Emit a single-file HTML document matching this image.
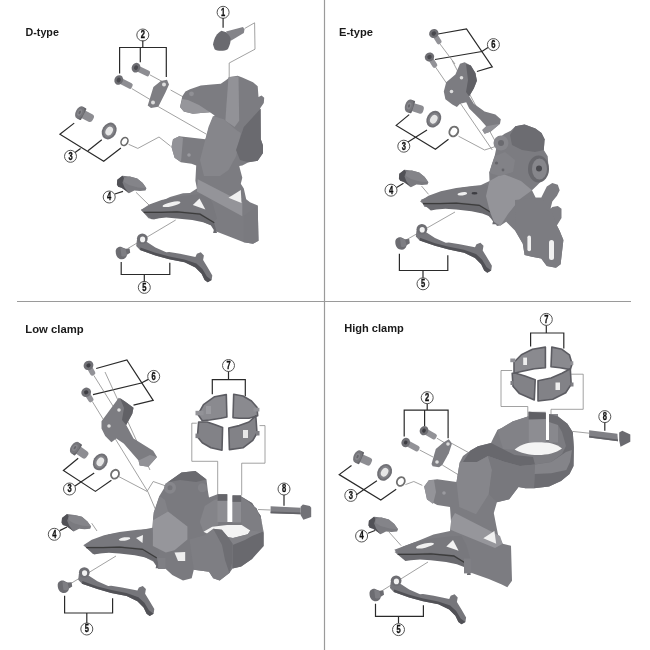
<!DOCTYPE html>
<html><head><meta charset="utf-8">
<style>
html,body{margin:0;padding:0;background:#fff;width:650px;height:650px;overflow:hidden}
svg{display:block;filter:blur(0.35px)}
.t{font-family:"Liberation Sans",sans-serif;font-weight:bold;font-size:11.4px;fill:#1a1a1a}
.n{font-family:"Liberation Sans",sans-serif;font-weight:bold;font-size:10.5px;fill:#111;text-anchor:middle;stroke:#111;stroke-width:0.35}
.c{fill:#fff;stroke:#555;stroke-width:1}
.b{fill:none;stroke:#2a2a2a;stroke-width:1.2}
.g{fill:none;stroke:#8a8a8a;stroke-width:0.8}
</style></head><body>
<svg width="650" height="650" viewBox="0 0 650 650">
<rect width="650" height="650" fill="#fff"/>
<defs>
<g id="p4">
<path d="M399.3,173.8 L404.4,169.7 L411.8,170.6 L419.2,172.5 L424.7,177.1 L428.4,182.2 L427.5,184.5 L421.9,184.9 L416.4,184.5 L410.9,187.2 L408.1,184.9 L403.5,181.7 L400.2,180.8 L398.9,178.5 Z" fill="#7a7a7f"/>
<path d="M399.3,173.8 L404.4,169.7 L406,172 L404.5,176.5 L406.5,181.5 L410.9,187.2 L408.1,184.9 L403.5,181.7 L400.2,180.8 L398.9,178.5 Z" fill="#515156"/>
<path d="M406,172 L411.8,170.6 L419.2,172.5 L424.7,177.1 L428.4,182.2 L420,181.5 L411,179 L406,176 Z" fill="#848489"/>
</g>
<g id="p5">
<path d="M395.3,242 C395.3,238.5 398,237 401,237.3 L405,239.2 L409.2,239 L409.8,243.2 L406.6,245.2 C406,248.6 403.5,250.2 400.4,249.6 C397.2,249 395.3,246 395.3,242 Z" fill="#6c6c71"/>
<path d="M400,238 L405,239.2 L406.6,245.2 C405.5,247 403,247.5 401,246.5 Z" fill="#7e7e83"/>
<path d="M425.8,231.9 L435,238 L445.8,242.7 L448.8,242.4 L459.6,244.2 L475,247.3 L476.5,244.2 L480.4,242.7 L483.5,245.8 L482.7,250.4 L487.3,258 L491.9,265.8 L491.2,270.4 L487.3,272.7 L484.2,270.4 L481.2,264.2 L475,258 L464.2,252.7 L448.8,249.6 L435,245.8 L419.6,240.4 L415.8,236.5 L416.5,230.4 Z" fill="#76767b"/>
<path d="M419.6,240.4 L435,245.8 L448.8,249.6 L464.2,252.7 L475,258 L481.2,264.2 L484.2,270.4 L487.3,272.7 L491.2,270.4 L486.5,267 L482,259.5 L476,254 L464,249.8 L449,246.8 L435,243.2 L420,237.8 Z" fill="#515156"/>
<ellipse cx="421.9" cy="229.2" rx="5.4" ry="5.2" fill="#6e6e73"/>
<ellipse cx="422.2" cy="229.8" rx="2.6" ry="2.8" fill="#f2f2f2"/>
</g>
<g id="cage">
<path d="M420,201.2 L428.5,195.8 L440.8,191.2 L456.2,188 L474.6,185.8 L486.9,185 L492,195 L496.2,210 L493,212.7 L479.2,204.2 L456.2,202 L440,202.5 L422.3,202.5 Z" fill="#78787d"/>
<path d="M420,201.2 L422.3,202.5 L440,202.5 L456.2,202 L479.2,204.2 L493,212.7 L496.2,224.2 L492.3,224.2 L493,221.2 L490,216.5 L482.3,213.5 L471.5,211.2 L456.2,209.6 L445.4,208.8 L436.2,209.6 L430.8,210.4 Z" fill="#6a6a6f"/>
<path d="M423,203.6 L440,203.6 L456.2,203.1 L479.2,205.3 L493.5,214" fill="none" stroke="#3c3c3c" stroke-width="1.3"/>
</g>
</defs>

<!-- dividers -->
<line x1="324.5" y1="0" x2="324.5" y2="650" stroke="#9a9a9a" stroke-width="1.2"/>
<line x1="17" y1="301.5" x2="631" y2="301.5" stroke="#9a9a9a" stroke-width="1.2"/>
<!-- titles -->
<text class="t" x="25.5" y="35.6" textLength="33.4" lengthAdjust="spacingAndGlyphs">D-type</text>
<text class="t" x="339" y="35.6" textLength="34" lengthAdjust="spacingAndGlyphs">E-type</text>
<text class="t" x="25.3" y="332.6" textLength="58.3" lengthAdjust="spacingAndGlyphs">Low clamp</text>
<text class="t" x="344.2" y="332.3" textLength="59.6" lengthAdjust="spacingAndGlyphs">High clamp</text>

<!-- ===== Q1 D-type ===== -->
<g id="q1">
<!-- label circles -->
<g class="lbl">
<g transform="translate(223.1,12.3)"><circle class="c" r="6"/><text class="n" transform="scale(0.72,1)" y="3.3">1</text></g>
<g transform="translate(142.8,35)"><circle class="c" r="6"/><text class="n" transform="scale(0.72,1)" y="3.3">2</text></g>
<g transform="translate(70.5,156.3)"><circle class="c" r="6"/><text class="n" transform="scale(0.72,1)" y="3.3">3</text></g>
<g transform="translate(109.2,197)"><circle class="c" r="6"/><text class="n" transform="scale(0.72,1)" y="3.3">4</text></g>
<g transform="translate(144.3,287.4)"><circle class="c" r="6"/><text class="n" transform="scale(0.72,1)" y="3.3">5</text></g>
</g>
<!-- brackets -->
<path class="b" d="M223.1,18 V27.7"/>
<path class="b" d="M142.8,40.6 V47.5 M119.6,73.5 V47.5 H166.3 V77 M140.3,47.5 V62.3"/>
<path class="b" d="M74.2,123.1 L59.9,134.2 L103.7,161.3 L120.9,148 M88,150.8 L101.8,139.7 M80.6,148.4 L75,152.6"/>
<path class="b" d="M114.8,194 L123,191.4"/>
<path class="b" d="M121.2,262.1 V274.5 H169.8 V262.8 M144.3,274.5 V281.8"/>
<!-- grey leader lines -->
<path class="g" d="M244.6,28.5 L254.6,22.8 L255,49.2 L229.2,63 L229.2,100"/>
<path class="g" d="M149.8,74.8 L165,83 M170.6,90 L213.5,113.5"/>
<path class="g" d="M131.8,88.6 L152.6,101 M158.2,106.6 L206.6,134.3"/>
<path class="g" d="M128.6,144.3 L137.8,148.4 L159,137 L170.6,146.2"/>
<path class="g" d="M136,192.3 L149,205"/>
<path class="g" d="M127.7,248.6 L175.7,220"/>
<!-- part 1 -->
<polygon points="226,31.5 243,27 244.5,29.5 243.8,33 230.8,40.8" fill="#848489"/>
<path d="M213,44.6 C214,38 217,33 221.5,30.8 L226.2,32.3 C229,35 231,38 230.8,40 C230,45 228.5,48 227.7,49.2 C224,51.5 217,51 214.6,49.2 Z" fill="#6a6a6f"/>
<!-- part 2 bolts -->
<g transform="translate(136,67.7) rotate(26)"><rect x="0" y="-3" width="15" height="6" rx="2" fill="#8d8d92"/><ellipse rx="4.2" ry="5" fill="#6e6e73"/><ellipse rx="2" ry="2.4" fill="#49494e"/></g>
<g transform="translate(118.7,80) rotate(27)"><rect x="0" y="-3" width="15" height="6" rx="2" fill="#8d8d92"/><ellipse rx="4.2" ry="5" fill="#6e6e73"/><ellipse rx="2" ry="2.4" fill="#49494e"/></g>
<!-- part 2 plate -->
<polygon points="148.5,103 153.4,87 160.8,81 167,79.7 169,84.6 165.7,92 158.3,106.8 151,108 147.7,105.5" fill="#7e7e83"/>
<circle cx="164" cy="84.5" r="2" fill="#ddd"/><circle cx="153" cy="102.5" r="2" fill="#ddd"/>
<!-- part 3 -->
<g transform="translate(80.6,112.9) rotate(27)"><rect x="0" y="-4.2" width="14" height="8.4" rx="3" fill="#8d8d92"/><rect x="-1" y="-6.6" width="4.5" height="13.2" rx="1" fill="#65656a"/><ellipse cx="-1" rx="4" ry="6.6" fill="#76767b"/><ellipse cx="-1" rx="2.2" ry="3.6" fill="#86868b"/><ellipse cx="-1" rx="1" ry="1.8" fill="#65656a"/></g>
<g transform="translate(109.2,131) rotate(30)"><ellipse rx="7" ry="8.8" fill="#707075"/><ellipse rx="5.2" ry="6.8" fill="#828287"/><ellipse rx="3.4" ry="4.6" fill="#e6e6e6"/></g>
<g transform="translate(124.5,141.5) rotate(30)"><ellipse rx="3.2" ry="4.2" fill="none" stroke="#6a6a6a" stroke-width="1.6"/></g>
<!-- part 4 -->
<use href="#p4" transform="translate(-282,6)"/>
<!-- part 5 -->
<use href="#p5" transform="translate(-279.6,9.6)"/>
<!-- main body -->
<path d="M180,106.9 L182.3,96.2 L185.4,91.5 L190,89.2 L200.8,85.4 L211.5,84.6 L220.8,83.8 L226.2,80 L230,76.9 L237.7,75.8 L242.3,77.4 L253,82.3 L257.7,86.2 L258.5,96.9 L261.5,95.4 L264.2,97.7 L263.8,103 L260,108.5 L260.8,139.2 L263,145.4 L263,153 L257.7,160.8 L248.5,162.3 L242.3,165.4 L239.2,166 L242.3,177.7 L240.8,183.8 L243.8,188.5 L246.2,199.2 L250,202.3 L257.7,205.4 L258.5,240.8 L253,243.8 L243.8,242.3 L228.5,236.2 L216.2,231.5 L211.5,225.4 L200.8,220.8 L183.8,215.4 L172,214 L154,219.5 L148.5,218.2 L141,209.8 L155.4,204.3 L170,197 L183,193.2 L190,193 L196.9,188.5 L195.4,180.8 L196.2,165.4 L191.5,163.8 L180.8,162.3 L174.6,157.7 L171.5,146.9 L173,139.2 L179.2,136.2 L205.4,139.2 L206.9,134.6 L209.2,127 L212.3,119.2 L214.6,115.4 L210,112.3 L200.8,113 L193,113.8 L183.8,111.5 Z" fill="#7c7c81"/>
<use href="#cage" transform="translate(-279.2,8.8)"/>
<path d="M180,106.9 L182.3,99 L188,100 L199,105 L210,112.3 L200.8,113 L193,113.8 L183.8,111.5 Z" fill="#96969b"/>
<circle cx="191.5" cy="93.8" r="2.4" fill="#909095"/>
<path d="M228.5,76.9 L238.5,76.5 L239.2,120.8 L234.6,127 L225.4,120.8 L226.2,108.5 Z" fill="#929297"/>
<path d="M208.5,127 L213,116 L223.8,119.2 L236.2,130 L240.8,133 L236.2,156 L228.5,170 L220,176 L204,176 L200,160 L205.4,139.2 Z" fill="#86868b"/>
<path d="M243.8,127 L260.8,108.5 L260.8,139.2 L263,145.4 L263,153 L257.7,160.8 L248.5,162.3 L240,160 L236,150 Z" fill="#6a6a6f"/>
<path d="M171.5,146.9 L173,139.2 L179.2,136.2 L183,138 L182,150 L181,162 L174.6,157.7 Z" fill="#929297"/>
<circle cx="189" cy="155" r="1.8" fill="#9a9a9f"/>
<path d="M197.7,179.2 L242.3,202.3 L242.3,216.2 L196.9,191.5 Z" fill="#949499"/>
<path d="M243.8,216 L257.7,205.4 L258.5,240.8 L253,243.8 L243.8,242.3 Z" fill="#7a7a7f"/>
<ellipse cx="171.5" cy="204.2" rx="9.2" ry="2.1" transform="rotate(-13 171.5 204.2)" fill="#f0f0f0"/>
<polygon points="199.5,198.5 192.8,205 205.4,209.6" fill="#f2f2f2"/>
<polygon points="228.5,197.7 240.8,190 241.5,203" fill="#f0f0f0"/>
</g>

<!-- ===== Q2 E-type ===== -->
<g id="q2">
<g transform="translate(493.4,44.6)"><circle class="c" r="6"/><text class="n" transform="scale(0.72,1)" y="3.3">6</text></g>
<g transform="translate(403.8,146.2)"><circle class="c" r="6"/><text class="n" transform="scale(0.72,1)" y="3.3">3</text></g>
<g transform="translate(391,190.2)"><circle class="c" r="6"/><text class="n" transform="scale(0.72,1)" y="3.3">4</text></g>
<g transform="translate(423,283.8)"><circle class="c" r="6"/><text class="n" transform="scale(0.72,1)" y="3.3">5</text></g>
<path class="b" d="M438,34 L466.5,28.8 L492.3,66.9 L476.9,71.5 M435,59.5 L481.9,51.5 L488,47.5"/>
<path class="b" d="M409.2,114.6 L396.2,125.4 L435.4,149.2 L448.5,139.2 M427,130 L408,142"/>
<path class="b" d="M396.6,187.4 L403.5,183.2"/>
<path class="b" d="M399.4,253.8 V270.5 H447.8 V255.2 M423,270.5 V277.8"/>
<path class="g" d="M439.4,43.2 L455,64 M435.4,66.9 L492.3,150"/>
<path class="g" d="M452.3,60.8 L470,95 L500,150"/>
<path class="g" d="M458.5,136.2 L484.6,150 L497,146"/>
<path class="g" d="M421.5,186 L428.5,194.3"/>
<path class="g" d="M406,240 L455,212"/>
<!-- part 6 bolts -->
<g transform="translate(433.8,33.5) rotate(58)"><rect x="0" y="-2.6" width="12" height="5.2" rx="2" fill="#929297"/><ellipse rx="4.4" ry="4.8" fill="#6e6e73"/><ellipse rx="2" ry="2.3" fill="#49494e"/></g>
<g transform="translate(429.5,57) rotate(58)"><rect x="0" y="-2.6" width="12" height="5.2" rx="2" fill="#929297"/><ellipse rx="4.4" ry="4.8" fill="#6e6e73"/><ellipse rx="2" ry="2.3" fill="#49494e"/></g>
<!-- part 6 plate -->
<path d="M443.8,91.5 L446.2,82.3 L455.4,74.6 L460,63.8 L464.6,62.3 L470.8,65.4 L475.4,73 L476.9,80.8 L473.8,88.5 L469.2,96.2 L473.8,103.8 L484.6,111.5 L495.4,114.6 L500.8,119.2 L500,123.8 L490.8,131.5 L484.6,133.8 L482.3,130 L486.2,126.2 L480,119.2 L469.2,108.5 L466.2,102.3 L460,103.8 L456.9,106.9 L452.3,104.6 L445.4,99.2 Z" fill="#7c7c81"/>
<path d="M466,64 L470.8,65.4 L475.4,73 L476.9,80.8 L473.8,88.5 L469.2,96.2 L466,92 L468,80 Z" fill="#606065"/>
<path d="M482.3,130 L486.2,126.2 L500,123.8 L490.8,131.5 L484.6,133.8 Z" fill="#929297"/>
<circle cx="451.5" cy="91.5" r="1.8" fill="#ddd"/><circle cx="461.5" cy="77.7" r="1.8" fill="#ddd"/>
<!-- part 3 -->
<g transform="translate(410,106.2) rotate(18)"><rect x="0" y="-4.2" width="14" height="8.4" rx="3" fill="#8d8d92"/><rect x="-1" y="-6.6" width="4.5" height="13.2" rx="1" fill="#65656a"/><ellipse cx="-1" rx="4" ry="6.6" fill="#76767b"/><ellipse cx="-1" rx="2.2" ry="3.6" fill="#86868b"/><ellipse cx="-1" rx="1" ry="1.8" fill="#65656a"/></g>
<g transform="translate(433.8,119.2) rotate(30)"><ellipse rx="7" ry="8.8" fill="#707075"/><ellipse rx="5.2" ry="6.8" fill="#828287"/><ellipse rx="3.4" ry="4.6" fill="#e6e6e6"/></g>
<g transform="translate(453.8,131.5) rotate(30)"><ellipse rx="4.2" ry="5" fill="none" stroke="#707070" stroke-width="2"/></g>
<!-- part 4 -->
<use href="#p4" transform="translate(0,0)"/>
<!-- part 5 -->
<use href="#p5" transform="translate(0,0)"/>
<!-- body -->
<path d="M421,199.8 L435.4,194.3 L463,187.4 L480,185.4 L489.5,181 L489.2,173 L491.5,165.4 L494.6,156.2 L496.9,145.4 L499.2,137.7 L504.6,133.8 L510.8,130.8 L515.4,126.2 L524.6,124.6 L535.4,128.5 L541.5,133 L544.6,139.2 L543.8,150 L547.7,156.2 L548.5,167 L544.6,177.7 L537,185.4 L532,190.3 L535.7,197.7 L541.2,197.7 L546.8,186.6 L552.3,183 L557.8,184.8 L559.7,190.3 L557,195.8 L552.3,201.4 L550.5,208.8 L552.3,207 L557.8,206 L561.5,208.8 L561.5,218 L556.9,225.4 L559.7,231 L563.4,240 L560.6,264.2 L556,267.8 L546.8,266 L541.2,258.6 L532,256.8 L524.6,255 L522.8,243.8 L515.4,231 L506.2,221.7 L500.6,225.4 L497,226 L494,222 L485,212 L471,207.5 L455,206 L435.4,208.2 L424.3,206.8 Z" fill="#7c7c81"/>
<use href="#cage" transform="translate(0,0)"/>
<path d="M489.5,181 L502.5,173.7 L521,181 L532,190.3 L520,199 L508,214 L500.6,225.4 L494,222 L490,212 L486,196 Z" fill="#949499"/>
<path d="M515.4,126.2 L524.6,124.6 L535.4,128.5 L541.5,133 L544.6,139.2 L543.8,150 L535,152 L522,150 L512,145 L510,135 Z" fill="#6c6c71"/>
<path d="M489.2,173 L491.5,165.4 L494.6,156.2 L505,152 L515,160 L513,172 L500,176 Z" fill="#828287"/>
<circle cx="496.5" cy="163" r="1.6" fill="#65656a"/><circle cx="503" cy="170" r="1.4" fill="#65656a"/>
<circle cx="501" cy="143" r="7.5" fill="#86868b"/><circle cx="501" cy="143" r="3" fill="#6a6a6f"/>
<ellipse cx="538.5" cy="169" rx="10.5" ry="13.5" fill="#68686d"/>
<ellipse cx="539.5" cy="169" rx="7.5" ry="10.5" fill="#86868b"/>
<circle cx="539" cy="168.5" r="3" fill="#4b4b50"/>
<path d="M515,200 L535.7,197.7 L541.2,197.7 L550.5,208.8 L556.9,225.4 L559.7,231 L563.4,240 L560.6,264.2 L556,267.8 L546.8,266 L541.2,258.6 L532,256.8 L524.6,255 L522.8,243.8 L515.4,231 Z" fill="#7c7c81"/>
<ellipse cx="462.3" cy="193.8" rx="4.8" ry="1.6" fill="#f0f0f0" transform="rotate(-8 462.3 193.8)"/>
<ellipse cx="474.5" cy="193.2" rx="3" ry="1.3" fill="#3e3e43"/>
<rect x="527.4" y="235.5" width="3.6" height="15.7" rx="1.8" fill="#f0f0f0"/>
<rect x="549" y="240" width="5" height="20" rx="2.5" fill="#f0f0f0"/>
</g>

<!-- ===== Q3 Low clamp ===== -->
<g id="q3">
<g transform="translate(153.7,376.4)"><circle class="c" r="6"/><text class="n" transform="scale(0.72,1)" y="3.3">6</text></g>
<g transform="translate(69.5,489)"><circle class="c" r="6"/><text class="n" transform="scale(0.72,1)" y="3.3">3</text></g>
<g transform="translate(54.3,534.3)"><circle class="c" r="6"/><text class="n" transform="scale(0.72,1)" y="3.3">4</text></g>
<g transform="translate(86.8,629)"><circle class="c" r="6"/><text class="n" transform="scale(0.72,1)" y="3.3">5</text></g>
<g transform="translate(228.5,365.5)"><circle class="c" r="6"/><text class="n" transform="scale(0.72,1)" y="3.3">7</text></g>
<g transform="translate(284,489)"><circle class="c" r="6"/><text class="n" transform="scale(0.72,1)" y="3.3">8</text></g>
<path class="b" d="M96.2,368.5 L126.9,360 L153.2,400.3 L133.5,405.2 M93,394.6 L141.4,383 L148.3,379.4"/>
<path class="b" d="M78.2,458.2 L63.4,470.5 L95.4,491.4 L111.4,480.3 M94.2,473 L75,486"/>
<path class="b" d="M59.7,530.6 L67,527"/>
<path class="b" d="M64.6,595.8 V613 H112.6 V598.3 M86.8,613 V623"/>
<path class="b" d="M228.5,371.5 V379.7 M212.3,394.2 V379.7 H245.3 V396.3"/>
<path class="b" d="M284,495 V505.7"/>
<path class="g" d="M93.8,375.4 L128,430 M92.3,401.5 L148,492 L160,520"/>
<path class="g" d="M105,372 L150,470"/>
<path class="g" d="M118.8,476.6 L147,491.4 L153.2,481.5 L166,486"/>
<path class="g" d="M91.7,523.2 L97,531"/>
<path class="g" d="M70,584 L116,556"/>
<path class="g" d="M196.8,423.2 H191.8 V461.3 H217.7 V494.5 M259.5,425.6 H265 V463.2 H241.7 V495.4"/>
<path class="g" d="M258,509.5 L270.6,510"/>
<!-- bolts 6 -->
<g transform="translate(88.5,365.4) rotate(62)"><rect x="0" y="-2.7" width="11" height="5.4" rx="2" fill="#929297"/><ellipse rx="4.6" ry="5" fill="#707075"/><ellipse rx="2" ry="2.2" fill="#3e3e43"/></g>
<g transform="translate(86.2,392.3) rotate(58)"><rect x="0" y="-2.7" width="11" height="5.4" rx="2" fill="#929297"/><ellipse rx="4.6" ry="5" fill="#707075"/><ellipse rx="2" ry="2.2" fill="#3e3e43"/></g>
<!-- part 6 -->
<path d="M101.5,421.2 L118.8,397.8 L125,401.5 L133.5,407.7 L132.3,413.8 L126.2,425 L133.5,438.5 L153.2,450.8 L157,457 L148.3,466.8 L139.7,465.5 L138.5,460.6 L123.7,443.4 L116.3,438.5 L111.4,442.2 L105.2,436 L101.5,428.6 Z" fill="#7c7c81"/>
<path d="M120,398 L125,401.5 L133.5,407.7 L132.3,413.8 L126.2,425 L122,420 L124,408 Z" fill="#616166"/>
<path d="M139.7,465.5 L138.5,460.6 L150,455 L157,457 L148.3,466.8 Z" fill="#929297"/>
<circle cx="109" cy="426" r="1.8" fill="#ddd"/><circle cx="119" cy="410" r="1.8" fill="#ddd"/>
<!-- part 3 -->
<g transform="translate(75.7,448.3) rotate(35)"><rect x="0" y="-4.2" width="14" height="8.4" rx="3" fill="#8d8d92"/><rect x="-1" y="-6.6" width="4.5" height="13.2" rx="1" fill="#65656a"/><ellipse cx="-1" rx="4" ry="6.6" fill="#76767b"/><ellipse cx="-1" rx="2.2" ry="3.6" fill="#86868b"/><ellipse cx="-1" rx="1" ry="1.8" fill="#65656a"/></g>
<g transform="translate(100.3,461.8) rotate(30)"><ellipse rx="7" ry="8.8" fill="#707075"/><ellipse rx="5.2" ry="6.8" fill="#828287"/><ellipse rx="3.4" ry="4.6" fill="#e6e6e6"/></g>
<g transform="translate(115,474.2) rotate(30)"><ellipse rx="3.8" ry="4.6" fill="none" stroke="#707070" stroke-width="1.8"/></g>
<!-- part 4 -->
<use href="#p4" transform="translate(-337.3,344.3)"/>
<!-- part 5 -->
<use href="#p5" transform="translate(-337.6,343.3)"/>
<!-- clamp 7 -->
<path d="M198,414.5 L203.5,404.7 L214.6,396.7 L226.3,394.6 L226.9,417 L220.8,418.2 L209.7,420 L202.3,420.7 Z" fill="#8a8a8f" stroke="#5c5c62" stroke-width="1.6" stroke-linejoin="round"/>
<path d="M233.7,394.2 L243,396 L251.5,401 L257,407.2 L257.7,415.8 L249,418.2 L239.2,418.2 L233,417.6 Z" fill="#8a8a8f" stroke="#5c5c62" stroke-width="1.6" stroke-linejoin="round"/>
<path d="M198.6,422 L207.2,422 L214.6,424.4 L222.6,427.5 L222,450.2 L210.9,447.8 L202.3,442.8 L197.4,436.7 Z" fill="#828287" stroke="#5c5c62" stroke-width="1.6" stroke-linejoin="round"/>
<path d="M228.8,428 L239.2,425.6 L249,422 L255.8,415.8 L257,433 L252.8,440.4 L243,447.8 L229.4,449.6 Z" fill="#828287" stroke="#5c5c62" stroke-width="1.6" stroke-linejoin="round"/>
<rect x="206" y="406" width="5" height="8" fill="#9a9a9f"/><rect x="243" y="430" width="5" height="8" fill="#e8e8e8"/>
<rect x="195.5" y="410.8" width="8" height="4.5" fill="#929297"/><rect x="253.4" y="407.8" width="6" height="3.7" fill="#929297"/>
<rect x="195.5" y="433.6" width="3.5" height="4.5" fill="#7f7f84"/><rect x="256" y="431" width="3.5" height="4.5" fill="#7f7f84"/>
<!-- bolt 8 -->
<path d="M270.6,506.3 L300.6,507.7 L300.6,514.2 L270.6,513.2 Z" fill="#808085"/><path d="M270.6,511.5 L300.6,512.5 L300.6,514.2 L270.6,513.2 Z" fill="#626267"/>
<path d="M300.6,506.8 L302.9,504.5 L309.9,505.9 L311.2,507.7 L311.2,517 L303.4,519.7 L300.6,515 Z" fill="#727277"/>
<!-- body -->
<path d="M84.3,545.4 L109,534.3 L138.5,530.6 L152.3,527.7 L153.8,512.6 L159.4,496 L167.7,482.2 L181.5,472.5 L195.4,471 L206.5,479.4 L207.8,490.5 L209,497.5 L217.5,494.3 L227.2,494.3 L227.2,522 L232.6,522 L232.6,495.4 L241.2,496.5 L252,503 L260.6,515.8 L262.8,533 L260.6,546 L252,559 L241.2,566.5 L232.6,568.6 L229.4,573 L219.7,580.5 L213.2,578.3 L209,571.8 L193.8,569.7 L191.7,578.3 L183,580.5 L172.3,575 L165.5,568.8 L158.2,568.8 L153.2,561.4 L138.5,554 L113.8,551.5 L93,554 Z" fill="#7a7a7f"/>
<use href="#cage" transform="translate(-336.7,344)"/>
<path d="M199.8,522 L204.8,506 L214.6,499.8 L218.3,499 L218.3,525 L212.2,526.8 L203.5,531.8 Z" fill="#848489"/><path d="M241.7,497.3 L247.8,501 L256.5,508.4 L261.4,519.5 L262.6,531.8 L250.3,530.5 L241.7,525 Z" fill="#7e7e83"/>
<path d="M241.2,496.5 L252,503 L260.6,515.8 L263.8,533 L263.8,546 L252,559 L241.2,566.5 L232.6,568.6 L232.6,543.8 L245,538 L252,534 L262.6,531.8 L261.4,519.5 L256.5,508.4 L247.8,501 L241.7,497.3 Z" fill="#69696e"/>
<path d="M203.5,531.8 L212.2,526.8 L227,525 L241.7,525 L250.3,530.5 L247.8,534.2 L233,538 L220.8,535.5 L208.5,534.2 Z" fill="#f3f3f3"/>
<rect x="217.5" y="494.3" width="9.7" height="27.8" fill="#8d8d92"/><rect x="232.6" y="495.4" width="8.6" height="27" fill="#8d8d92"/>
<rect x="217.5" y="494.3" width="9.7" height="6.5" fill="#65656a"/><rect x="232.6" y="495.4" width="8.6" height="6.5" fill="#65656a"/>
<path d="M233,538 L247.8,534.2 L250.3,530.5 L262.6,531.8 L252,536 L245,540 L232.6,545 L228.3,537.4 Z" fill="#828287"/>
<circle cx="170" cy="487.7" r="6" fill="#86868b"/><circle cx="170" cy="487.7" r="2.5" fill="#76767b"/>
<circle cx="202.3" cy="487.7" r="4.5" fill="#828287"/>
<path d="M167.7,482.2 L181.5,472.5 L195.4,471 L206.5,479.4 L196,482 L180,480 Z" fill="#6a6a6f"/>
<path d="M153.8,512.6 L159.4,496 L165,500 L168,511.5 L152.9,520.2 Z" fill="#828287"/>
<path d="M152.9,520.2 L168,511.5 L187.4,526.6 L187.4,539.5 L174.5,550.3 L165.8,552.5 L152.9,546 Z" fill="#96969b"/>
<path d="M189.5,539.5 L204.6,535.2 L213.2,528.8 L221.8,529.8 L228.3,537.4 L232.6,543.8 L232.6,561 L229.4,573 L219.7,580.5 L213.2,578.3 L209,571.8 L193.8,569.7 Z" fill="#7e7e83"/>
<path d="M213.2,528.8 L221.8,529.8 L228.3,537.4 L232.6,543.8 L232.6,561 L229.4,573 L225,560 L222,545 Z" fill="#6e6e73"/>
<rect x="158.2" y="558" width="7.3" height="11" fill="#7f7f84"/>
<ellipse cx="124.5" cy="539" rx="5.8" ry="1.7" transform="rotate(-8 124.5 539)" fill="#f0f0f0"/>
<polygon points="136,538 143,535 142.5,543" fill="#f0f0f0"/>
<path d="M174.5,552.5 L185.2,552 L185.2,561 L178,561 Z" fill="#eeeeee"/>
</g>

<!-- ===== Q4 High clamp ===== -->
<g id="q4">
<g transform="translate(427.2,397.7)"><circle class="c" r="6"/><text class="n" transform="scale(0.72,1)" y="3.3">2</text></g>
<g transform="translate(350.8,495.4)"><circle class="c" r="6"/><text class="n" transform="scale(0.72,1)" y="3.3">3</text></g>
<g transform="translate(361.6,536)"><circle class="c" r="6"/><text class="n" transform="scale(0.72,1)" y="3.3">4</text></g>
<g transform="translate(398.5,629.6)"><circle class="c" r="6"/><text class="n" transform="scale(0.72,1)" y="3.3">5</text></g>
<g transform="translate(546.3,319.4)"><circle class="c" r="6"/><text class="n" transform="scale(0.72,1)" y="3.3">7</text></g>
<g transform="translate(604.8,416.6)"><circle class="c" r="6"/><text class="n" transform="scale(0.72,1)" y="3.3">8</text></g>
<path class="b" d="M427.2,403.7 V410.2 M404.2,436.4 V410.2 H448.1 V438.2 M424.6,410.2 V426.3"/>
<path class="b" d="M351.5,465.4 L339.2,474.6 L380.8,500 L396.2,489.2 M376.9,480.8 L356,495"/>
<path class="b" d="M368,533.2 L375,530.5"/>
<path class="b" d="M375.5,603.8 V616.3 H423.4 V605.2 M398.5,616.3 V623.2"/>
<path class="b" d="M546.3,325.4 V333 M530.6,346.5 V333 H563.8 V348.4"/>
<path class="b" d="M604.8,422.6 V430.8"/>
<path class="g" d="M405.4,484.6 L413.8,481.5 L422.3,485.4"/>
<path class="g" d="M436.9,438.2 L450,446 M452,443.5 L473,455"/>
<path class="g" d="M419.7,450 L433,457 M442.3,465 L462,477"/>
<path class="g" d="M388.8,531.8 L401.2,545.7"/>
<path class="g" d="M380,592 L428,562"/>
<path class="g" d="M512.2,370.5 H501 V406.5 H527.8 V440 M571.2,374.2 H583.2 V409.3 H551 V440"/>
<path class="g" d="M572.5,431.4 L589.1,433.2"/>
<!-- bolts 2 -->
<g transform="translate(424,430.6) rotate(30)"><rect x="0" y="-3" width="14" height="6" rx="2" fill="#929297"/><ellipse rx="4.2" ry="4.8" fill="#6e6e73"/><ellipse rx="1.8" ry="2.1" fill="#3e3e43"/></g>
<g transform="translate(405.7,442.5) rotate(28)"><rect x="0" y="-3" width="15" height="6" rx="2" fill="#929297"/><ellipse rx="4.2" ry="4.8" fill="#6e6e73"/><ellipse rx="1.8" ry="2.1" fill="#3e3e43"/></g>
<polygon points="431.5,464 435.8,448.9 443.4,442.5 448.8,439.2 452,443.5 448.8,453.2 442.3,465 439,467.2 432.6,466.2" fill="#7e7e83"/>
<circle cx="448" cy="444" r="1.8" fill="#ddd"/><circle cx="437" cy="462" r="1.8" fill="#ddd"/>
<!-- part 3 -->
<g transform="translate(358.5,457) rotate(24)"><rect x="0" y="-4.2" width="14" height="8.4" rx="3" fill="#8d8d92"/><rect x="-1" y="-6.6" width="4.5" height="13.2" rx="1" fill="#65656a"/><ellipse cx="-1" rx="4" ry="6.6" fill="#76767b"/><ellipse cx="-1" rx="2.2" ry="3.6" fill="#86868b"/><ellipse cx="-1" rx="1" ry="1.8" fill="#65656a"/></g>
<g transform="translate(384.6,472.3) rotate(30)"><ellipse rx="7" ry="8.8" fill="#707075"/><ellipse rx="5.2" ry="6.8" fill="#828287"/><ellipse rx="3.4" ry="4.6" fill="#e6e6e6"/></g>
<g transform="translate(400.8,481.5) rotate(30)"><ellipse rx="3.8" ry="4.6" fill="none" stroke="#707070" stroke-width="1.8"/></g>
<!-- part 4 -->
<use href="#p4" transform="translate(-30.4,347)"/>
<!-- part 5 -->
<use href="#p5" transform="translate(-25.8,351.6)"/>
<!-- clamp 7 -->
<path d="M514,362.2 L521.4,354.8 L532.5,349.3 L545.4,347.1 L545.4,367.8 L534.3,368.7 L521.4,371.5 L514,373.3 Z" fill="#8a8a8f" stroke="#5c5c62" stroke-width="1.6" stroke-linejoin="round"/>
<path d="M551.8,347.1 L562,349.3 L569.4,354.8 L572.1,364 L570.3,369.6 L560.1,367.8 L551,366.8 Z" fill="#8a8a8f" stroke="#5c5c62" stroke-width="1.6" stroke-linejoin="round"/>
<path d="M512.2,373.3 L515.8,373.3 L525,376 L535.2,379.8 L534.3,400 L519.5,393.6 L513,386.2 Z" fill="#828287" stroke="#5c5c62" stroke-width="1.6" stroke-linejoin="round"/>
<path d="M538,380.7 L551,378 L562,373.3 L570.3,368.7 L571.2,384.4 L565.7,392.7 L552.8,399.2 L538,401 Z" fill="#828287" stroke="#5c5c62" stroke-width="1.6" stroke-linejoin="round"/>
<rect x="523.2" y="357.6" width="3.8" height="7.4" fill="#eee"/><rect x="555.5" y="382.5" width="4.5" height="7.5" fill="#eee"/>
<rect x="510.3" y="358.5" width="5" height="3.7" fill="#929297"/><rect x="570.3" y="361.3" width="3" height="3.7" fill="#929297"/>
<rect x="510.5" y="381" width="3" height="4" fill="#7f7f84"/><rect x="570.5" y="382.5" width="3" height="4" fill="#7f7f84"/>
<!-- bolt 8 -->
<path d="M589.1,430.2 L617.4,433.8 L618,441.2 L589.1,437.5 Z" fill="#808085"/><path d="M589.1,435.8 L618,439.5 L618,441.2 L589.1,437.5 Z" fill="#626267"/>
<path d="M619.2,432.6 L622.3,430.8 L630.3,434.5 L630.3,441.8 L620.5,446.8 L619.2,440.6 Z" fill="#6a6a6f"/>
<!-- body -->
<path d="M493,438.8 L497.4,430 L501.7,428 L512.5,421.5 L528.6,416.2 L528.6,411.8 L545.8,413 L545.8,440 L549,440 L549,414 L557.7,416.2 L567.4,423.7 L572.8,432.3 L573.8,447.4 L573.5,466 L569.5,474 L561,481 L549,486.5 L534,488.3 L525.4,488.3 L518.5,487 L509.2,499.2 L496.9,502.3 L493.8,513 L496.2,525.4 L498,534.6 L502.7,543.8 L511,545.7 L512,580.8 L507.3,587.2 L501.8,584.5 L488.8,579 L470.4,572.5 L466.7,564 L453.8,556.8 L433.5,555 L415,556.8 L405.4,558.2 L399.8,555.4 L394.3,549.8 L416.5,541.5 L433.5,534.6 L450,531 L451,521.7 L450,507 L437.2,505 L427,499.5 L424.2,486.6 L428.8,480.2 L437.2,479.2 L456.5,482 L458.6,469 L459.7,462.5 L463,456 L470.5,450.6 L478,446.3 L491,443 Z" fill="#7c7c81"/>
<use href="#cage" transform="translate(-25.4,350.7)"/>
<!-- ring inner back -->
<path d="M497.4,430 L501.7,428 L512.5,421.5 L528.6,416.2 L528.6,442 L514.6,449.5 L503,449 Z" fill="#828287"/>
<path d="M514.6,449.5 C522,443.5 530,442 538,442 C548,442 557,444 562,448.5 C556,453 547,455 538.3,455 C529,455 520,453 514.6,449.5 Z" fill="#f4f4f4"/>
<rect x="528.6" y="411.8" width="17.2" height="30.5" fill="#8d8d92"/><rect x="549" y="414" width="9" height="28.5" fill="#88888d"/>
<path d="M528.6,411.8 L545.8,413 L545.8,419 L528.6,419.4 Z" fill="#606065"/>
<path d="M549,414 L557.7,416.2 L567.4,423.7 L572.8,432.3 L573.8,447.4 L573.5,466 L569.5,474 L561,481 L549,486.5 L534,488.3 L535,464.6 L551.2,462 L562,454 L566,446 L562,432 L558,425 L549,422 Z" fill="#6c6c71"/>
<path d="M535,464.6 L551.2,462 L566,452 L572,450 L570,462 L566.3,470 L551.2,473.2 L534,474 Z" fill="#848489"/>
<!-- mechanism block -->
<path d="M470.5,450.6 L478,446.3 L491,443 L503.8,449.5 L514.6,455 L533,457 L535,464.6 L520,466 L505,462 L488,456 L477,462 L463,462 Z" fill="#68686d"/>
<path d="M459.7,462.5 L463,462 L477,462 L488,456 L492,470 L488.8,494 L476,514.3 L459.3,507 L456.5,482 L458.6,469 Z" fill="#86868b"/>
<path d="M488,456 L505,462 L520,466 L535,464.6 L534,488.3 L525.4,488.3 L518.5,487 L509.2,499.2 L496.9,502.3 L488.8,494 L492,470 Z" fill="#78787d"/>
<path d="M424.2,486.6 L428.8,480.2 L434,480 L436,492 L433,504 L427,499.5 Z" fill="#949499"/>
<circle cx="444" cy="493" r="1.8" fill="#9a9a9f"/>
<!-- band and cage -->
<path d="M451,519.8 L455,513 L500,536 L502.7,543.8 L495,548 L451,530 Z" fill="#96969b"/>
<rect x="464" y="558.6" width="7.3" height="14.8" fill="#7f7f84"/>
<ellipse cx="425" cy="545.6" rx="9.2" ry="2.1" transform="rotate(-13 425 545.6)" fill="#f0f0f0"/>
<polygon points="453,540 446.3,546.5 458.6,550.8" fill="#f2f2f2"/>
<polygon points="483.3,538.3 494.4,531 496.2,543.8" fill="#f0f0f0"/>
</g>
</svg>
</body></html>
